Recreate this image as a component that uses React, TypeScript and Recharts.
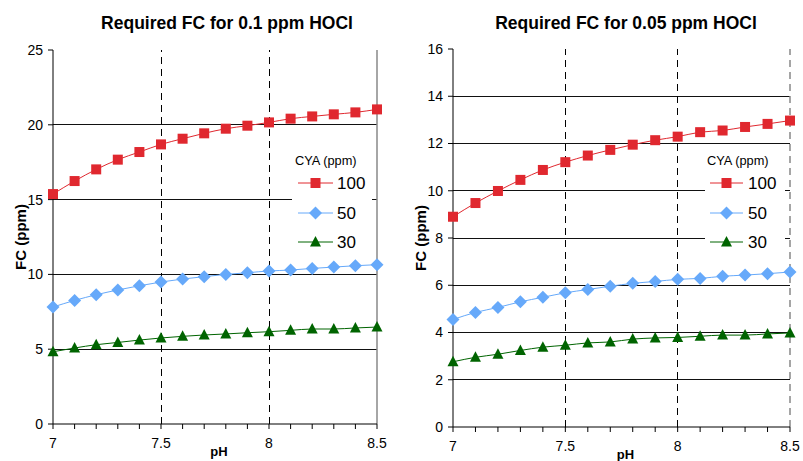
import React from 'react';
import { LineChart, Line, XAxis, YAxis, ReferenceLine, Legend, Label } from 'recharts';

// ---- data ----
const PH = [7.0, 7.1, 7.2, 7.3, 7.4, 7.5, 7.6, 7.7, 7.8, 7.9, 8.0, 8.1, 8.2, 8.3, 8.4, 8.5];
const X_LABELED = [7, 7.5, 8, 8.5];
const CYA_LEVELS = ['100', '50', '30'];

// Required FC for 0.1 ppm HOCl
const FC01_CYA100 = [15.37, 16.24, 17.02, 17.67, 18.18, 18.69, 19.07, 19.43, 19.74, 19.94, 20.16, 20.41, 20.56, 20.7, 20.83, 21.03];
const FC01_CYA50 = [7.82, 8.26, 8.64, 8.96, 9.24, 9.49, 9.69, 9.85, 10.0, 10.11, 10.23, 10.29, 10.4, 10.49, 10.58, 10.65];
const FC01_CYA30 = [4.83, 5.08, 5.3, 5.45, 5.61, 5.75, 5.86, 5.95, 6.02, 6.1, 6.17, 6.26, 6.35, 6.35, 6.42, 6.48];
const FC01_Y_TICKS = [0, 5, 10, 15, 20, 25];
const FC01_GRID = [5, 10, 15, 20];

// Required FC for 0.05 ppm HOCl
const FC005_CYA100 = [8.9, 9.48, 9.99, 10.46, 10.88, 11.21, 11.49, 11.73, 11.95, 12.14, 12.29, 12.48, 12.55, 12.7, 12.83, 12.97];
const FC005_CYA50 = [4.55, 4.85, 5.06, 5.3, 5.49, 5.68, 5.82, 5.96, 6.08, 6.16, 6.25, 6.29, 6.38, 6.43, 6.49, 6.56];
const FC005_CYA30 = [2.76, 2.95, 3.08, 3.24, 3.38, 3.46, 3.56, 3.6, 3.72, 3.77, 3.79, 3.84, 3.89, 3.89, 3.94, 3.98];
const FC005_Y_TICKS = [0, 2, 4, 6, 8, 10, 12, 14, 16];
const FC005_GRID = [2, 4, 6, 8, 10, 12, 14];

const DASHED_PH = [7.5, 8];

const RED = '#E0282F';
const BLUE = '#66A9FA';
const GREEN = '#006400';
const COLORS = [RED, BLUE, GREEN];
const SHAPES = ['square', 'diamond', 'triangle'];
const FONT = '"Liberation Sans", Arial, sans-serif';

function Marker({ cx, cy, shape, color }: { cx: number; cy: number; shape: string; color: string }) {
  if (shape === 'square') {
    return <rect x={cx - 5} y={cy - 5} width={10} height={10} fill={color} />;
  }
  if (shape === 'diamond') {
    const r = 6.5;
    return <polygon points={`${cx},${cy - r} ${cx + r},${cy} ${cx},${cy + r} ${cx - r},${cy}`} fill={color} />;
  }
  return <polygon points={`${cx},${cy - 6} ${cx + 5.5},${cy + 4.5} ${cx - 5.5},${cy + 4.5}`} fill={color} />;
}

function makeDot(shape: string, color: string) {
  return (props: any) => {
    const { cx, cy, index } = props;
    if (cx == null || cy == null) return <g key={`d-${index}`} />;
    return <Marker key={`d-${shape}-${index}`} cx={cx} cy={cy} shape={shape} color={color} />;
  };
}

function LegendBox({ titleX, lineX1, lineX2, textX }: { titleX: number; lineX1: number; lineX2: number; textX: number }) {
  const rows = [38, 68, 97];
  const mx = (lineX1 + lineX2) / 2;
  return (
    <svg width={80} height={112} style={{ display: 'block', background: '#fff' }}>
      <rect x={0} y={0} width={80} height={112} fill="#fff" />
      <text x={titleX} y={19.5} fontSize={12.8} fontFamily={FONT} fill="#000">CYA (ppm)</text>
      {CYA_LEVELS.map((lvl, i) => (
        <g key={lvl}>
          <line x1={lineX1} x2={lineX2} y1={rows[i]} y2={rows[i]} stroke={COLORS[i]} strokeWidth={1} />
          <Marker cx={mx} cy={rows[i]} shape={SHAPES[i]} color={COLORS[i]} />
          <text x={textX} y={rows[i] + 6} fontSize={17} fontFamily={FONT} fill="#000">{lvl}</text>
        </g>
      ))}
    </svg>
  );
}

type PanelProps = {
  title: string;
  s100: number[];
  s50: number[];
  s30: number[];
  yMax: number;
  yTicks: number[];
  grid: number[];
  width: number;
  marginTop: number;
  marginRight: number;
  xAxisHeight: number;
  legendLeft: number;
  legendProps: { titleX: number; lineX1: number; lineX2: number; textX: number };
  borderDashed: boolean;
};

function Panel(p: PanelProps) {
  const data = PH.map((ph, i) => ({ ph, c100: p.s100[i], c50: p.s50[i], c30: p.s30[i] }));
  const keys = ['c100', 'c50', 'c30'];
  return (
    <LineChart
      width={p.width}
      height={461}
      data={data}
      margin={{ top: p.marginTop, right: p.marginRight, bottom: 0, left: 0 }}
    >
      <XAxis
        dataKey="ph"
        type="number"
        domain={[7, 8.5]}
        ticks={PH}
        interval={0}
        height={p.xAxisHeight}
        tickSize={5}
        tickMargin={9}
        axisLine={{ stroke: '#000' }}
        tickLine={{ stroke: '#000' }}
        tick={{ fontSize: 14, fill: '#000', fontFamily: FONT }}
        tickFormatter={(v: number) => (X_LABELED.includes(v) ? String(v) : '')}
      >
        <Label
          content={({ viewBox }: any) => (
            <text
              x={viewBox.x + viewBox.width / 2 + 4}
              y={viewBox.y + 32}
              textAnchor="middle"
              fontSize={13}
              fontWeight="bold"
              fontFamily={FONT}
              fill="#000"
            >
              pH
            </text>
          )}
        />
      </XAxis>
      <YAxis
        type="number"
        domain={[0, p.yMax]}
        ticks={p.yTicks}
        interval={0}
        width={53}
        tickSize={5}
        tickMargin={5}
        axisLine={{ stroke: '#000' }}
        tickLine={{ stroke: '#000' }}
        tick={{ fontSize: 14, fill: '#000', fontFamily: FONT }}
      >
        <Label
          content={({ viewBox }: any) => {
            const cx = 20;
            const cy = viewBox.y + viewBox.height / 2;
            return (
              <text
                x={cx}
                y={cy}
                transform={`rotate(-90 ${cx} ${cy})`}
                textAnchor="middle"
                dominantBaseline="central"
                fontSize={15}
                fontWeight="bold"
                fontFamily={FONT}
                fill="#000"
              >
                FC (ppm)
              </text>
            );
          }}
        />
      </YAxis>
      {p.grid.map((v) => (
        <ReferenceLine key={`g${v}`} y={v} stroke="#111" strokeWidth={1} shapeRendering="crispEdges" />
      ))}
      {DASHED_PH.map((v) => (
        <ReferenceLine key={`v${v}`} x={v} stroke="#000" strokeWidth={1} strokeDasharray="7 5" shapeRendering="crispEdges" />
      ))}
      <ReferenceLine
        x={8.5}
        stroke="#888"
        strokeWidth={1.5}
        strokeDasharray={p.borderDashed ? '7 5' : undefined}
      />
      {keys.map((k, i) => (
        <Line
          key={k}
          dataKey={k}
          name={CYA_LEVELS[i]}
          type="monotone"
          stroke={COLORS[i]}
          strokeWidth={1}
          dot={makeDot(SHAPES[i], COLORS[i])}
          activeDot={false}
          isAnimationActive={false}
        />
      ))}
      <Legend
        layout="vertical"
        align="center"
        verticalAlign="middle"
        wrapperStyle={{ left: p.legendLeft, top: 145, width: 80, height: 112 }}
        content={() => <LegendBox {...p.legendProps} />}
      />
    </LineChart>
  );
}

const titleStyle: React.CSSProperties = {
  position: 'absolute',
  top: 13,
  fontFamily: FONT,
  fontWeight: 'bold',
  fontSize: 17.5,
  color: '#000',
  whiteSpace: 'nowrap',
  transform: 'translateX(-50%)',
  lineHeight: '20px',
};

export default function App() {
  return (
    <div style={{ position: 'absolute', left: 0, top: 0, width: 803, height: 461, background: '#fff', overflow: 'hidden' }}>
      <div style={{ position: 'absolute', left: 0, top: 0, width: 400, height: 461 }}>
        <Panel
          title="Required FC for 0.1 ppm HOCl"
          s100={FC01_CYA100}
          s50={FC01_CYA50}
          s30={FC01_CYA30}
          yMax={25}
          yTicks={FC01_Y_TICKS}
          grid={FC01_GRID}
          width={400}
          marginTop={50}
          marginRight={23}
          xAxisHeight={37}
          legendLeft={292}
          legendProps={{ titleX: 3, lineX1: 6, lineX2: 41, textX: 45 }}
          borderDashed={false}
        />
        <div style={{ ...titleStyle, left: 227 }}>Required FC for 0.1 ppm HOCl</div>
      </div>
      <div style={{ position: 'absolute', left: 400, top: 0, width: 403, height: 461 }}>
        <Panel
          title="Required FC for 0.05 ppm HOCl"
          s100={FC005_CYA100}
          s50={FC005_CYA50}
          s30={FC005_CYA30}
          yMax={16}
          yTicks={FC005_Y_TICKS}
          grid={FC005_GRID}
          width={403}
          marginTop={49}
          marginRight={13}
          xAxisHeight={34}
          legendLeft={305}
          legendProps={{ titleX: 2, lineX1: 5, lineX2: 38, textX: 43 }}
          borderDashed={true}
        />
        <div style={{ ...titleStyle, left: 226 }}>Required FC for 0.05 ppm HOCl</div>
      </div>
    </div>
  );
}
